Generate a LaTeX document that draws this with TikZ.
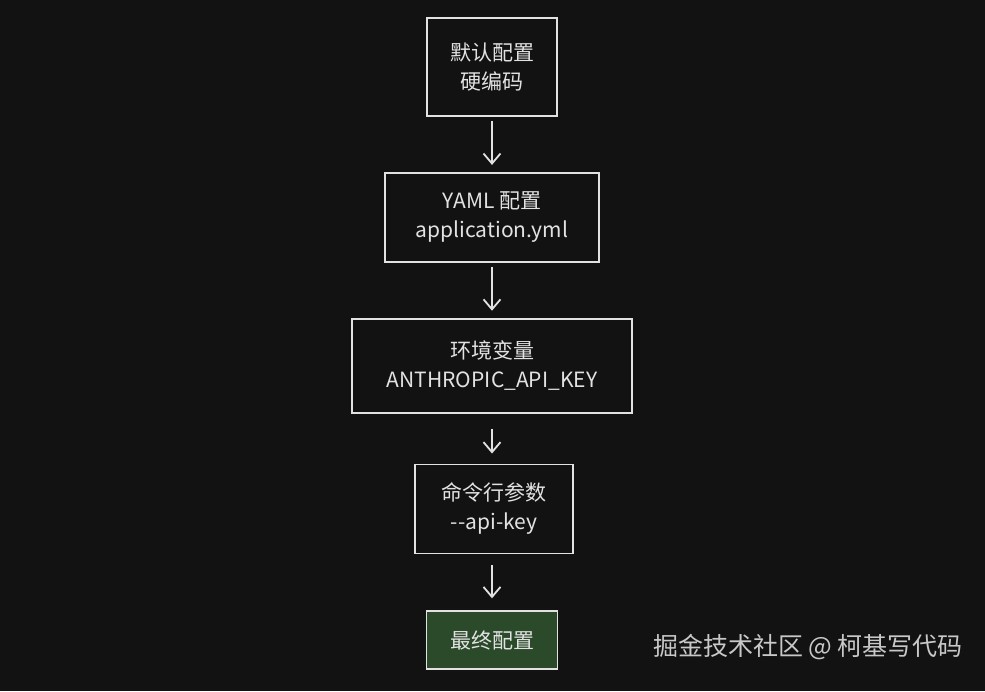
\documentclass[tikz,border=0pt]{standalone}
\usepackage{fontspec}
\setmainfont{Noto Sans CJK SC}
\usetikzlibrary{arrows.meta,positioning}
\definecolor{bgdark}{RGB}{18,18,18}
\definecolor{chalk}{RGB}{226,226,226}
\definecolor{finalgreen}{RGB}{42,74,42}
\definecolor{markgray}{RGB}{200,200,200}
\newcommand{\boxfont}{\fontsize{21}{29}\selectfont}

\begin{document}
\begin{tikzpicture}[x=1pt,y=1pt,node distance=55pt,
        stage/.style={rectangle,draw=chalk,fill=bgdark,line width=1.8pt,text=chalk,
          align=center,font=\boxfont,inner sep=0pt},
        final/.style={stage,fill=finalgreen},
        flow/.style={-{Straight Barb[length=10pt,width=17pt,line width=1.8pt]},
          line width=1.8pt,draw=chalk,shorten <=4pt,shorten >=7pt}]
        \fill[bgdark] (0,0) rectangle (985,-691);
        \useasboundingbox (0,0) rectangle (985,-691);
        \node[stage,minimum width=130pt,minimum height=98pt] (defaults) at (492,-67) {默认配置\\硬编码};
        \node[stage,minimum width=214pt,minimum height=89pt,below=of defaults] (yaml) {YAML 配置\\application.yml};
        \node[stage,minimum width=280pt,minimum height=94pt,below=of yaml] (env) {环境变量\\ANTHROPIC\_API\_KEY};
        \node[stage,minimum width=158pt,minimum height=89pt,below=50pt of env,xshift=2pt] (cli) {命令行参数\\-{}-api-key};
        \node[final,minimum width=131pt,minimum height=58pt,below=56pt of cli,xshift=-2pt] (result) {最终配置};
        \draw[flow] (defaults) -- (yaml);
        \draw[flow] (yaml) -- (env);
        \draw[flow,shorten <=15pt,shorten >=10pt] (env) -- (env |- cli.north);
        \draw[flow,shorten <=11pt,shorten >=12pt] (cli.south -| result) -- (result);
        \node[text=markgray,font=\fontsize{25}{25}\selectfont,inner sep=0pt] (mark) at (808,-647) {掘金技术社区 @ 柯基写代码};
      \end{tikzpicture}
\end{document}
